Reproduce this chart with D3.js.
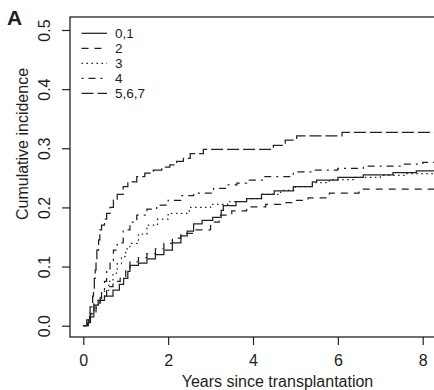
<!DOCTYPE html>
<html>
<head>
<meta charset="utf-8">
<script src="https://cdn.jsdelivr.net/npm/d3@7"></script>
<style>
  body { margin: 0; background: #fff; }
  svg text { font-family: "Liberation Sans", Arial, sans-serif; fill: #1e1e1e; }
</style>
</head>
<body>
<div id="chart"></div>
<script>
// groups shown in the legend
var groups = ["0,1", "2", "3", "4", "5,6,7"];

// cumulative incidence step points per group: [years, incidence]
var grp01 = [[0,0],[0.12,0.005],[0.17,0.02],[0.25,0.035],[0.35,0.043],[0.5,0.05],[0.7,0.06],[0.85,0.07],[0.95,0.08],
  [1.05,0.092],[1.1,0.102],[1.3,0.106],[1.5,0.113],[1.7,0.12],[1.9,0.128],[2.1,0.14],[2.3,0.152],[2.45,0.16],
  [2.6,0.172],[2.8,0.178],[3.05,0.183],[3.25,0.195],[3.3,0.203],[3.6,0.21],[3.85,0.215],[4.2,0.222],[4.5,0.228],
  [4.95,0.235],[5.4,0.243],[5.5,0.246],[6.0,0.251],[6.6,0.255],[7.3,0.259],[7.85,0.262],[8.3,0.262]];
var grp2 = [[0,0],[0.1,0.005],[0.15,0.015],[0.25,0.04],[0.4,0.05],[0.55,0.066],[0.7,0.075],[0.87,0.083],[1.0,0.095],
  [1.1,0.108],[1.3,0.115],[1.5,0.122],[1.7,0.13],[1.9,0.139],[2.1,0.148],[2.3,0.156],[2.6,0.162],[3.0,0.175],
  [3.2,0.187],[3.5,0.194],[3.85,0.201],[4.3,0.205],[4.65,0.208],[5.0,0.212],[5.3,0.216],[5.8,0.224],[6.5,0.231],[8.3,0.231]];
var grp3 = [[0,0],[0.1,0.005],[0.15,0.015],[0.25,0.03],[0.35,0.043],[0.5,0.06],[0.6,0.075],[0.7,0.089],[0.8,0.105],
  [0.9,0.117],[1.0,0.13],[1.1,0.139],[1.3,0.155],[1.5,0.17],[1.75,0.18],[2.0,0.19],[2.5,0.2],[3.0,0.205],[3.4,0.21],
  [3.85,0.215],[4.2,0.222],[4.65,0.229],[5.0,0.235],[5.4,0.242],[5.8,0.247],[6.4,0.251],[7.0,0.254],[7.6,0.257],[8.3,0.257]];
var grp4 = [[0,0],[0.08,0.005],[0.12,0.01],[0.16,0.021],[0.3,0.038],[0.43,0.06],[0.5,0.075],[0.55,0.094],[0.63,0.11],
  [0.71,0.128],[0.8,0.14],[0.94,0.162],[1.1,0.175],[1.26,0.187],[1.5,0.197],[1.73,0.204],[2.0,0.212],[2.3,0.22],
  [2.6,0.224],[3.07,0.232],[3.4,0.238],[3.62,0.241],[3.85,0.246],[4.25,0.252],[4.95,0.26],[5.4,0.263],[6.0,0.266],
  [6.6,0.27],[7.5,0.273],[8.0,0.276],[8.3,0.276]];
var grp567 = [[0,0],[0.08,0.01],[0.16,0.032],[0.22,0.05],[0.24,0.06],[0.26,0.08],[0.28,0.094],[0.3,0.11],[0.32,0.128],
  [0.36,0.145],[0.39,0.162],[0.43,0.17],[0.5,0.18],[0.55,0.19],[0.63,0.2],[0.71,0.2125],[0.8,0.222],[0.94,0.235],
  [1.05,0.243],[1.26,0.252],[1.45,0.258],[1.65,0.263],[1.85,0.268],[2.04,0.272],[2.2,0.278],[2.36,0.283],[2.52,0.291],
  [2.83,0.298],[4.48,0.305],[4.76,0.314],[5.03,0.321],[6.1,0.327],[8.3,0.327]];

// axis ticks
var xTicks = [0, 2, 4, 6, 8];
var yTicks = [0, 0.1, 0.2, 0.3, 0.4, 0.5];

var series = [grp01, grp2, grp3, grp4, grp567];
var dashes = ["none", "7,6", "1.5,3.5", "2,5,7,5", "12,4"];

var width = 434, height = 390;
var box = { left: 70, top: 17, right: 446, bottom: 337 };

var svg = d3.select("#chart").append("svg")
    .attr("width", width)
    .attr("height", height);

var x = d3.scaleLinear().domain([0, 8]).range([83.3, 422.7]);
var y = d3.scaleLinear().domain([0, 0.5]).range([325.7, 30]);

// panel letter
svg.append("text")
    .attr("x", 7).attr("y", 25)
    .style("font-size", "21px").style("font-weight", "bold")
    .text("A");

// clip to plot box
svg.append("clipPath").attr("id", "clip")
  .append("rect")
    .attr("x", box.left).attr("y", box.top)
    .attr("width", box.right - box.left).attr("height", box.bottom - box.top);

// curves
var line = d3.line()
    .x(function (d) { return x(d[0]); })
    .y(function (d) { return y(d[1]); })
    .curve(d3.curveStepAfter);

svg.append("g").attr("clip-path", "url(#clip)")
  .selectAll(".curve")
  .data(series)
  .enter().append("path")
    .attr("class", "curve")
    .attr("d", line)
    .attr("fill", "none")
    .attr("stroke", "#222")
    .attr("stroke-width", 1.25)
    .attr("stroke-dasharray", function (d, i) { return dashes[i]; });

// frame
svg.append("rect")
    .attr("x", box.left).attr("y", box.top)
    .attr("width", box.right - box.left).attr("height", box.bottom - box.top)
    .attr("fill", "none").attr("stroke", "#222").attr("stroke-width", 1.3);

// x axis
var xAxis = svg.append("g")
    .attr("transform", "translate(0," + box.bottom + ")")
    .call(d3.axisBottom(x).tickValues(xTicks).tickSize(8).tickPadding(10).tickFormat(d3.format("d")));
xAxis.select(".domain").remove();
xAxis.selectAll("line").attr("stroke", "#222").attr("stroke-width", 1.2);
xAxis.selectAll("text").style("font-size", "16px").style("font-family", "Liberation Sans, Arial, sans-serif").attr("fill", "#1e1e1e");

// y axis, labels rotated like R
var yAxis = svg.append("g")
    .attr("transform", "translate(" + box.left + ",0)")
    .call(d3.axisLeft(y).tickValues(yTicks).tickSize(8).tickFormat(d3.format(".1f")));
yAxis.select(".domain").remove();
yAxis.selectAll("line").attr("stroke", "#222").attr("stroke-width", 1.2);
yAxis.selectAll("text")
    .attr("x", null).attr("dy", null)
    .attr("transform", "translate(-20,0) rotate(-90)")
    .style("text-anchor", "middle")
    .style("font-size", "16px").style("font-family", "Liberation Sans, Arial, sans-serif").attr("fill", "#1e1e1e");

// axis titles
svg.append("text")
    .attr("x", 277.5).attr("y", 386.5)
    .style("text-anchor", "middle").style("font-size", "16px")
    .text("Years since transplantation");
svg.append("text")
    .attr("transform", "translate(28,144) rotate(-90)")
    .style("text-anchor", "middle").style("font-size", "16px")
    .text("Cumulative incidence");

// legend
var legend = svg.append("g").selectAll(".item")
    .data(groups)
  .enter().append("g")
    .attr("class", "item")
    .attr("transform", function (d, i) { return "translate(0," + (33.3 + i * 15) + ")"; });
legend.append("line")
    .attr("x1", 81.5).attr("x2", 107)
    .attr("stroke", "#222").attr("stroke-width", 1.25)
    .attr("stroke-dasharray", function (d, i) { return dashes[i]; });
legend.append("text")
    .attr("x", 115).attr("y", 5)
    .style("font-size", "13.5px")
    .text(function (d) { return d; });
</script>
</body>
</html>
